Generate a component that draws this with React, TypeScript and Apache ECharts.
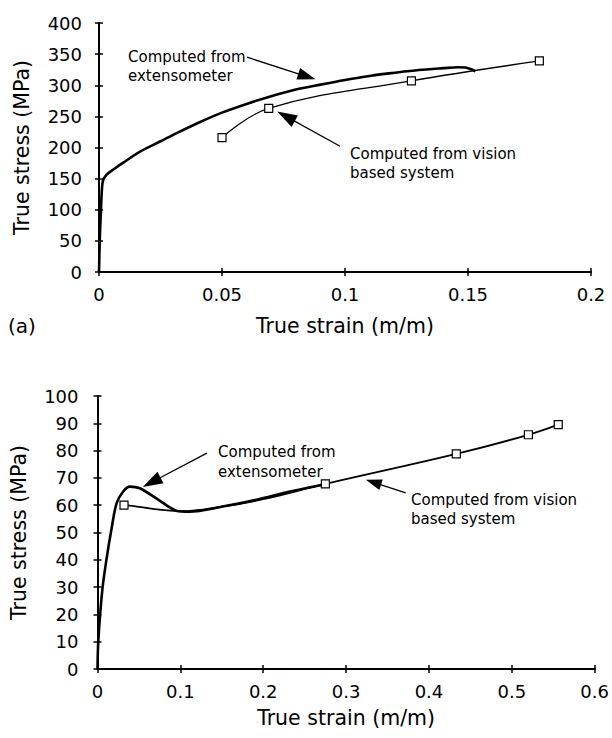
import React, { useEffect, useRef } from "react";
import * as echarts from "echarts";

// ---- Panel (a) ----
const xTicksA = [0, 0.05, 0.1, 0.15, 0.2];
const yTicksA = [0, 50, 100, 150, 200, 250, 300, 350, 400];
const extStrainA = [0, 0.0003, 0.0008, 0.0015, 0.003, 0.006, 0.01, 0.017, 0.025, 0.03, 0.04, 0.05, 0.06, 0.068, 0.08, 0.09, 0.1, 0.11, 0.12, 0.13, 0.14, 0.146, 0.149, 0.151, 0.153];
const extStressA = [0, 50, 100, 145, 156, 165, 176, 194, 210, 220, 239, 256, 270, 280, 293, 301, 308.5, 315, 320, 324.5, 327.5, 329, 328.5, 326, 322.5];
const visStrainA = [0.05, 0.069, 0.127, 0.179];
const visStressA = [216, 263, 307, 339];

// ---- Panel (b) ----
const xTicksB = [0, 0.1, 0.2, 0.3, 0.4, 0.5, 0.6];
const yTicksB = [0, 10, 20, 30, 40, 50, 60, 70, 80, 90, 100];
const extStrainB = [0, 0.001, 0.006, 0.011, 0.017, 0.023, 0.031, 0.039, 0.051, 0.071, 0.095, 0.111, 0.151, 0.192, 0.232, 0.276];
const extStressB = [0, 10.5, 29.5, 40.5, 51.5, 60.7, 65, 66.8, 66.2, 62.5, 58, 57.6, 59.5, 62, 65, 67.8];
const visStrainB = [0.032, 0.05, 0.075, 0.1, 0.15, 0.2, 0.275, 0.433, 0.52, 0.556];
const visStressB = [60, 59.4, 58.4, 57.8, 59.5, 62.2, 67.8, 78.8, 85.8, 89.5];
const visMarkedB = [true, false, false, false, false, false, true, true, true, true];

// annotation arrows (data coordinates: from -> arrow head)
const arrowsA = [
  { from: [0.0602, 345], to: [0.0845, 314] },
  { from: [0.098, 202], to: [0.076, 250] },
];
const arrowsB = [
  { from: [0.132, 79.1], to: [0.0653, 68.4] },
  { from: [0.372, 64.5], to: [0.333, 68.4] },
];

const FONT = "DejaVu Sans";

function pairs(xs: number[], ys: number[]) {
  return xs.map((x, i) => [x, ys[i]]);
}

function arrowMarkLine(arrows: { from: number[]; to: number[] }[], headSizes: number[][]) {
  return {
    silent: true,
    animation: false,
    label: { show: false },
    lineStyle: { color: "#000", width: 1.3, type: "solid" },
    data: arrows.map((a, i) => [
      { coord: a.from, symbol: "none" },
      { coord: a.to, symbol: "triangle", symbolSize: headSizes[i] },
    ]),
  };
}

function makeAxes(grid: number, xt: number[], yt: number[], yNameGap: number, yLabelMargin: number, xNameGap: number) {
  const axisLine = { show: true, onZero: false, lineStyle: { color: "#000", width: 2 } };
  const labelStyle = { color: "#000", fontSize: 18, fontFamily: FONT };
  const nameStyle = { color: "#000", fontSize: 20.5, fontFamily: FONT };
  const xBase = {
    type: "value",
    gridIndex: grid,
    min: xt[0],
    max: xt[xt.length - 1],
    interval: xt[1] - xt[0],
    position: "bottom",
    splitLine: { show: false },
  };
  const yBase = {
    type: "value",
    gridIndex: grid,
    min: yt[0],
    max: yt[yt.length - 1],
    interval: yt[1] - yt[0],
    position: "left",
    splitLine: { show: false },
  };
  const xAxes = [
    {
      ...xBase,
      axisLine,
      axisTick: { show: true, inside: false, length: 4, lineStyle: { color: "#000", width: 1.5 } },
      axisLabel: { ...labelStyle, margin: 13 },
      name: "True strain (m/m)",
      nameLocation: "middle",
      nameGap: xNameGap,
      nameTextStyle: nameStyle,
    },
    {
      ...xBase,
      axisLine: { show: false },
      axisTick: { show: true, inside: true, length: 4, lineStyle: { color: "#000", width: 1.5 } },
      axisLabel: { show: false },
    },
  ];
  const yAxes = [
    {
      ...yBase,
      axisLine,
      axisTick: { show: true, inside: false, length: 4, lineStyle: { color: "#000", width: 1.5 } },
      axisLabel: { ...labelStyle, margin: yLabelMargin },
      name: "True stress (MPa)",
      nameLocation: "middle",
      nameGap: yNameGap,
      nameTextStyle: nameStyle,
    },
    {
      ...yBase,
      axisLine: { show: false },
      axisTick: { show: true, inside: true, length: 4, lineStyle: { color: "#000", width: 1.5 } },
      axisLabel: { show: false },
    },
  ];
  return { xAxes, yAxes };
}

function noteText(x: number, y: number, text: string, lh: number) {
  return {
    type: "text",
    x,
    y,
    silent: true,
    style: {
      text,
      fill: "#000",
      fontSize: 15,
      fontFamily: FONT,
      lineHeight: lh,
      textAlign: "left",
      textVerticalAlign: "top",
    },
  };
}

export default function App() {
  const ref = useRef<HTMLDivElement>(null);
  useEffect(() => {
    if (!ref.current) return;
    const chart = echarts.init(ref.current, undefined, { renderer: "svg" });
    const a = makeAxes(0, xTicksA, yTicksA, 67, 17, 43);
    const b = makeAxes(1, xTicksB, yTicksB, 68, 19, 38);
    const option: any = {
      animation: false,
      backgroundColor: "#fff",
      grid: [
        { left: 99, top: 23, width: 492, height: 249, containLabel: false },
        { left: 97.5, top: 396, width: 498.5, height: 273, containLabel: false },
      ],
      xAxis: [...a.xAxes, ...b.xAxes],
      yAxis: [...a.yAxes, ...b.yAxes],
      series: [
        {
          type: "line",
          xAxisIndex: 0,
          yAxisIndex: 0,
          data: pairs(extStrainA, extStressA),
          symbol: "none",
          smooth: 0.3,
          lineStyle: { color: "#000", width: 2.6 },
          z: 2,
        },
        {
          type: "line",
          xAxisIndex: 0,
          yAxisIndex: 0,
          data: pairs(visStrainA, visStressA),
          symbol: "rect",
          symbolSize: 8,
          showAllSymbol: true,
          smooth: 0.4,
          lineStyle: { color: "#000", width: 1.3 },
          itemStyle: { color: "#fff", borderColor: "#000", borderWidth: 1.2 },
          markLine: arrowMarkLine(arrowsA, [[12, 18], [13, 20]]),
          z: 3,
        },
        {
          type: "line",
          xAxisIndex: 2,
          yAxisIndex: 2,
          data: pairs(extStrainB, extStressB),
          symbol: "none",
          smooth: 0.3,
          lineStyle: { color: "#000", width: 2.6 },
          z: 2,
        },
        {
          type: "line",
          xAxisIndex: 2,
          yAxisIndex: 2,
          data: visStrainB.map((x, i) => ({
            value: [x, visStressB[i]],
            symbol: visMarkedB[i] ? "rect" : "none",
          })),
          symbol: "rect",
          symbolSize: 8,
          showAllSymbol: true,
          smooth: 0.4,
          lineStyle: { color: "#000", width: 1.8 },
          itemStyle: { color: "#fff", borderColor: "#000", borderWidth: 1.2 },
          markLine: arrowMarkLine(arrowsB, [[13, 20], [11, 16]]),
          z: 3,
        },
      ],
      graphic: [
        noteText(128, 47.5, "Computed from\nextensometer", 19),
        noteText(350, 144.5, "Computed from vision\nbased system", 19),
        noteText(218, 442, "Computed from\nextensometer", 20),
        noteText(411, 490, "Computed from vision\nbased system", 19),
        {
          type: "text",
          x: 8,
          y: 316,
          silent: true,
          style: { text: "(a)", fill: "#000", fontSize: 20, fontFamily: FONT, textVerticalAlign: "top" },
        },
      ],
    };
    chart.setOption(option);
    return () => chart.dispose();
  }, []);
  return (
    <div
      ref={ref}
      style={{ position: "absolute", left: 0, top: 0, width: 612, height: 738, background: "#fff" }}
    />
  );
}
